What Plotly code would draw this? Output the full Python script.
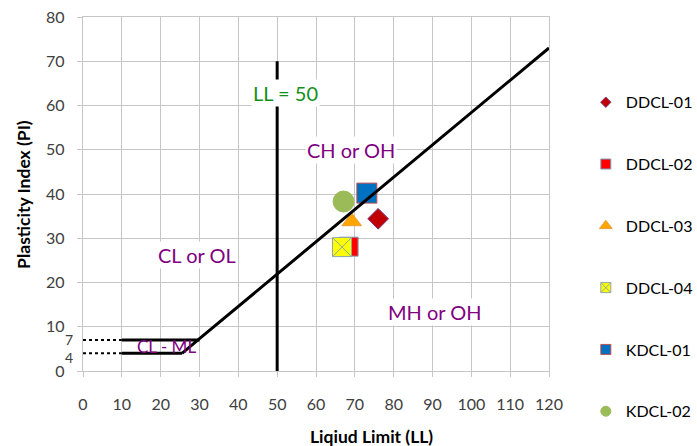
import plotly.graph_objects as go

# Sample results: liquid limit (LL) and plasticity index (PI)
samples = ["DDCL-01", "DDCL-02", "DDCL-03", "DDCL-04", "KDCL-01", "KDCL-02"]
ll_values = [76.0, 68.4, 69.2, 66.7, 73.1, 67.1]
pi_values = [34.4, 28.1, 33.8, 28.0, 40.2, 38.3]

# Marker styling per sample (plot size, legend size)
symbols = ["diamond", "square", "triangle-up", "square-x", "square", "circle"]
fills = ["#c00000", "#ff0000", "#ffa500", "#ffff00", "#0070c0", "#9bbb59"]
edges = ["#7a3c8c", "#7f9fb8", "#f0a030", "#8fa8a8", "#c0504d", "#9bbb59"]
sizes = [16, 19, 17, 19, 20, 21]
legend_sizes = [8, 10, 11, 10, 10, 10]

# Plasticity chart reference lines
a_line_ll = [25.5, 30, 120]
a_line_pi = [4, 7.3, 73]
ll50_ll = [50, 50]
ll50_pi = [0, 70]
clml_top_ll = [10, 30]
clml_top_pi = [7, 7]
clml_bot_ll = [10, 25.5]
clml_bot_pi = [4, 4]
dot_top_ll = [0, 10]
dot_top_pi = [7, 7]
dot_bot_ll = [0, 10]
dot_bot_pi = [4, 4]

# Zone labels
zone_text = ["CH or OH", "CL or OL", "MH or OH"]
zone_ll = [69.1, 29.4, 90.7]
zone_pi = [49.9, 26.2, 13.4]

x_ticks = list(range(0, 121, 10))
y_ticks = list(range(0, 81, 10))

PURPLE = "#800080"
GREEN = "#12901a"
TICK_COLOR = "#404040"
GRID = "#c6c6c6"
FONT = "Lato"

fig = go.Figure()

for name, x, y, sym, fc, ec, sz, lsz in zip(samples, ll_values, pi_values,
                                             symbols, fills, edges, sizes,
                                             legend_sizes):
    fig.add_trace(go.Scatter(
        x=[x], y=[y], mode="markers", name=name, legendgroup=name,
        showlegend=False,
        marker=dict(symbol=sym, size=sz, color=fc,
                    line=dict(color=ec, width=1)),
    ))
    # legend entry with a compact symbol
    fig.add_trace(go.Scatter(
        x=[None], y=[None], mode="markers", name=name, legendgroup=name,
        marker=dict(symbol=sym, size=lsz, color=fc,
                    line=dict(color=ec, width=1)),
    ))

solid = dict(color="black", width=3)
for xs, ys in [(a_line_ll, a_line_pi), (ll50_ll, ll50_pi),
               (clml_top_ll, clml_top_pi), (clml_bot_ll, clml_bot_pi)]:
    fig.add_trace(go.Scatter(x=xs, y=ys, mode="lines", line=solid,
                             showlegend=False, hoverinfo="skip"))
for xs, ys in [(dot_top_ll, dot_top_pi), (dot_bot_ll, dot_bot_pi)]:
    fig.add_trace(go.Scatter(x=xs, y=ys, mode="lines",
                             line=dict(color="black", width=2, dash="dot"),
                             showlegend=False, hoverinfo="skip"))

for t, x, y in zip(zone_text, zone_ll, zone_pi):
    fig.add_annotation(x=x, y=y, text=t, showarrow=False,
                       font=dict(family=FONT, size=20, color=PURPLE),
                       bgcolor="white", borderpad=1)

fig.add_annotation(x=21.6, y=5.5, text="CL - ML", showarrow=False,
                   font=dict(family=FONT, size=17, color=PURPLE))
fig.add_annotation(x=52.2, y=62.8, text="LL = 50", showarrow=False,
                   font=dict(family=FONT, size=20, color=GREEN),
                   bgcolor="white", borderpad=1)

# Extra PI labels for the CL-ML band limits
for v, shift in [(7, 1), (4, -4)]:
    fig.add_annotation(x=-0.02, xref="paper", y=v, yshift=shift,
                       text=str(v), showarrow=False, xanchor="right",
                       yanchor="middle", borderpad=0,
                       font=dict(family=FONT, size=14, color=TICK_COLOR))

# Axis titles
fig.add_annotation(x=0.62, xref="paper", y=-0.186, yref="paper",
                   xanchor="center", yanchor="middle",
                   text="<b>Liqiud Limit (LL)</b>", showarrow=False,
                   font=dict(family=FONT, size=17.5, color="black"))
fig.add_annotation(x=-0.129, xref="paper", y=0.5, yref="paper",
                   xanchor="center", yanchor="middle",
                   text="<b>Plasticity Index (PI)</b>", showarrow=False,
                   textangle=-90,
                   font=dict(family=FONT, size=17.5, color="black"))

axis_common = dict(
    showgrid=True, gridcolor=GRID, gridwidth=1.3,
    showline=True, linecolor=GRID, linewidth=1.3, mirror=True,
    zeroline=False, ticks="outside", ticklen=5, tickcolor=GRID,
    tickfont=dict(family=FONT, size=16, color=TICK_COLOR),
)

fig.update_xaxes(range=[0, 120], tickvals=x_ticks, ticklabelstandoff=14,
                 **axis_common)
fig.update_yaxes(range=[0, 80], tickvals=y_ticks, ticklabelstandoff=9,
                 **axis_common)

fig.update_layout(
    width=697, height=446,
    margin=dict(l=83, r=148, t=17, b=75, autoexpand=False),
    plot_bgcolor="white", paper_bgcolor="white",
    showlegend=True,
    legend=dict(x=1.079, xanchor="left", y=0.807, yanchor="top",
                font=dict(family=FONT, size=16, color="black"),
                itemsizing="trace", tracegroupgap=38, maxheight=440,
                bgcolor="rgba(0,0,0,0)"),
)

fig.write_html("out.html")
